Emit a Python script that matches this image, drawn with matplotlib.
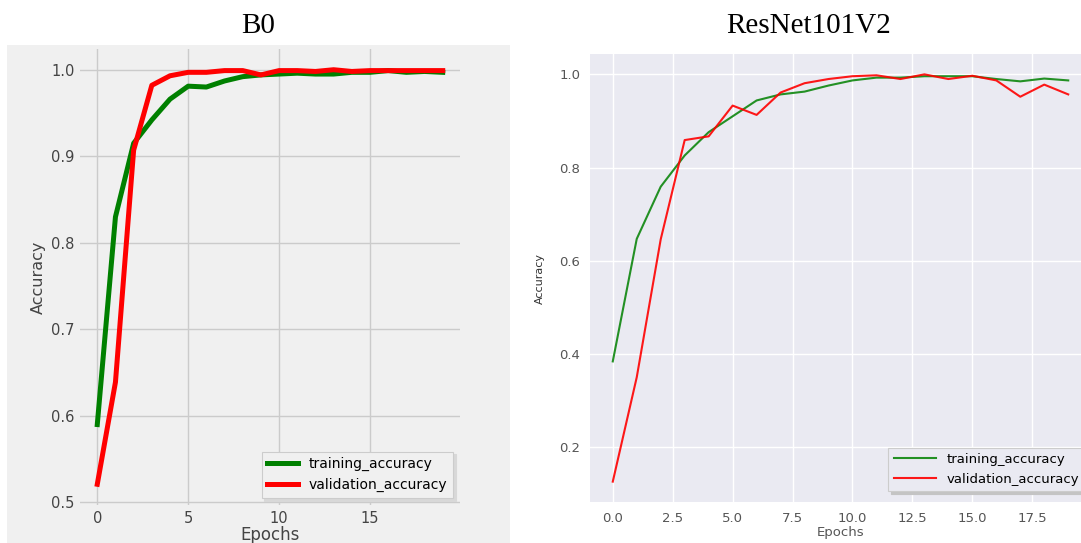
import numpy as np
import matplotlib.pyplot as plt
from matplotlib.patches import Rectangle

# B0 history
epochs = np.arange(20)
b0_train = [0.590, 0.830, 0.915, 0.942, 0.966, 0.981, 0.980, 0.987, 0.992, 0.994,
            0.995, 0.996, 0.995, 0.995, 0.997, 0.997, 0.999, 0.997, 0.998, 0.997]
b0_val = [0.521, 0.639, 0.907, 0.982, 0.993, 0.997, 0.997, 0.999, 0.999, 0.994,
          0.999, 0.999, 0.998, 1.000, 0.998, 0.999, 0.999, 0.999, 0.999, 0.999]

# ResNet101V2 history
res_train = [0.384, 0.647, 0.759, 0.826, 0.876, 0.910, 0.944, 0.957, 0.963, 0.976,
             0.987, 0.993, 0.993, 0.996, 0.996, 0.996, 0.990, 0.985, 0.991, 0.987]
res_val = [0.126, 0.350, 0.646, 0.859, 0.867, 0.933, 0.913, 0.961, 0.981, 0.990,
           0.996, 0.998, 0.990, 1.000, 0.990, 0.997, 0.987, 0.952, 0.978, 0.957]

W, H = 1081, 543
fig = plt.figure(figsize=(W / 100, H / 100), dpi=100)
fig.patch.set_facecolor('white')

# grey panel behind the left (fivethirtyeight-like) plot
fig.patches.append(Rectangle((7 / W, 0), 503 / W, 498 / H, transform=fig.transFigure,
                             facecolor='#f0f0f0', edgecolor='none', zorder=-5))

# ---- left: B0 ----
ax1 = fig.add_axes([80 / W, 1 - 505 / H, 380 / W, 456 / H])
ax1.set_facecolor('#f0f0f0')
ax1.plot(epochs, b0_train, color='green', lw=3.6, label='training_accuracy')
ax1.plot(epochs, b0_val, color='red', lw=3.6, label='validation_accuracy')
ax1.grid(True, color='#cbcbcb', lw=1)
ax1.set_axisbelow(True)
for s in ax1.spines.values():
    s.set_visible(False)
ax1.tick_params(length=0, labelsize=10.5, colors='#444444', pad=4)
ax1.set_xticks([0, 5, 10, 15])
ax1.set_yticks([0.5, 0.6, 0.7, 0.8, 0.9, 1.0])
ax1.set_xlabel('Epochs', fontsize=12, color='#444444', labelpad=0)
ax1.set_ylabel('Accuracy', fontsize=11.5, color='#444444', labelpad=4)
leg1 = ax1.legend(loc='lower right', fontsize=10, facecolor='#f0f0f0', edgecolor='#cccccc',
                  framealpha=1, fancybox=False, shadow={'color': '#d8d8d8', 'alpha': 1},
                  handlelength=2.2)
leg1.get_frame().set_linewidth(0.8)

# ---- right: ResNet101V2 ----
ax2 = fig.add_axes([590 / W, 1 - 502 / H, 501 / W, 448 / H])
ax2.set_facecolor('#eaeaf2')
ax2.plot(epochs, res_train, color='green', lw=1.5, alpha=0.85, label='training_accuracy')
ax2.plot(epochs, res_val, color='red', lw=1.5, alpha=0.9, label='validation_accuracy')
ax2.grid(True, color='white', lw=1)
ax2.set_axisbelow(True)
for s in ax2.spines.values():
    s.set_visible(False)
ax2.tick_params(length=0, labelsize=9.5, colors='#555555', pad=7)
ax2.set_xticks([0, 2.5, 5, 7.5, 10, 12.5, 15, 17.5])
ax2.set_yticks([0.2, 0.4, 0.6, 0.8, 1.0])
ax2.set_xlabel('Epochs', fontsize=9.5, color='#555555', labelpad=1)
ax2.set_ylabel('Accuracy', fontsize=8, color='#333333', labelpad=10)
leg2 = ax2.legend(loc='lower right', fontsize=9.5, facecolor='#eaeaf2', edgecolor='#cccccc',
                  framealpha=1, fancybox=False, shadow={'color': '#c4c4c4', 'alpha': 1},
                  handlelength=3.2, bbox_to_anchor=(1.0, 0.01))
leg2.get_frame().set_linewidth(0.8)

# panel titles
fig.text(258 / W, 1 - 26 / H, 'B0', ha='center', va='center', fontsize=21,
         family='Liberation Serif')
fig.text(809 / W, 1 - 26 / H, 'ResNet101V2', ha='center', va='center', fontsize=21,
         family='Liberation Serif')

fig.savefig('out.png', dpi=100)
